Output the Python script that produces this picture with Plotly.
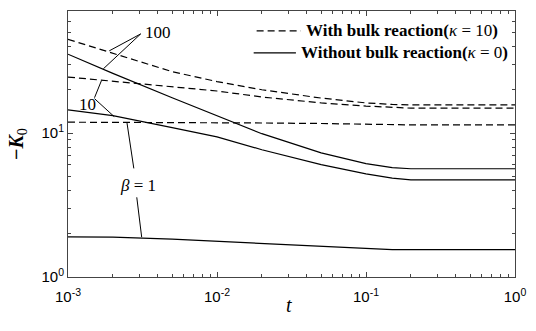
import plotly.graph_objects as go

# Time grid (log-spaced sample points)
t = [0.001, 0.002, 0.005, 0.01, 0.02, 0.05, 0.1, 0.15, 0.2, 0.5, 1.0]

# -K0 without bulk reaction (kappa = 0)
k0_beta1 = [1.90, 1.89, 1.83, 1.77, 1.72, 1.65, 1.58, 1.55, 1.55, 1.55, 1.55]
k0_beta10 = [14.5, 13.2, 10.9, 9.4, 7.66, 6.03, 5.21, 4.86, 4.73, 4.73, 4.73]
k0_beta100 = [35.3, 26.0, 17.6, 13.2, 9.9, 7.29, 6.14, 5.75, 5.65, 5.65, 5.65]

# -K0 with bulk reaction (kappa = 10)
k10_beta1 = [11.9, 11.88, 11.85, 11.8, 11.75, 11.65, 11.5, 11.42, 11.4, 11.4, 11.4]
k10_beta10 = [24.5, 22.9, 21.0, 19.6, 17.8, 16.2, 15.4, 15.05, 14.9, 14.9, 14.9]
k10_beta100 = [44.8, 35.7, 26.7, 22.8, 20.0, 17.5, 16.2, 15.8, 15.7, 15.7, 15.7]

x_tickvals = [0.001, 0.01, 0.1, 1]
x_ticktext = ["10<sup>-3</sup>", "10<sup>-2</sup>", "10<sup>-1</sup>", "10<sup>0</sup>"]
y_tickvals = [1, 10]
y_ticktext = ["10<sup>0</sup>", "10<sup>1</sup>"]

legend_with = "<b>With bulk reaction(</b><i>κ</i> = 10<b>)</b>"
legend_without = "<b>Without bulk reaction(</b><i>κ</i> = 0<b>)</b>"

W, H = 536, 331
L, R, T, B = 68, 13, 10, 54
pw, ph = W - L - R, H - T - B

def px(x):
    return (x - L) / pw

def py(y):
    return (H - B - y) / ph

fig = go.Figure()
dash = "7px,4px"
line_w = 1.2

series = [
    (k10_beta100, "dash"),
    (k10_beta10, "dash"),
    (k10_beta1, "dash"),
    (k0_beta100, "solid"),
    (k0_beta10, "solid"),
    (k0_beta1, "solid"),
]
for vals, style in series:
    fig.add_trace(go.Scatter(
        x=t, y=vals, mode="lines", showlegend=False,
        line=dict(color="black", width=line_w,
                  dash=dash if style == "dash" else "solid"),
    ))

def seg(p0, p1, dash_style="solid", width=1):
    return dict(type="line", xref="paper", yref="paper",
                x0=px(p0[0]), y0=py(p0[1]), x1=px(p1[0]), y1=py(p1[1]),
                line=dict(color="black", width=width, dash=dash_style))

# Leader lines from the beta labels to their curves (pixel positions)
leaders = [
    ((142, 33), (110, 50)),
    ((142, 33), (104, 68)),
    ((95, 97), (102, 80)),
    ((95, 98), (115, 116)),
    ((128, 122), (135, 168)),
    ((138, 197), (143, 237)),
]
shapes = [seg(a, b) for a, b in leaders]

# Legend keys
shapes.append(seg((260, 30), (305, 30), dash, line_w))
shapes.append(seg((257, 52), (300, 52), "solid", line_w))

label_font = dict(family="Liberation Serif", size=17, color="black")
legend_font = dict(family="Liberation Serif", size=17, color="black")

def text_at(txt, x, y, font, xanchor="center"):
    return dict(text=txt, x=px(x), y=py(y), xref="paper", yref="paper",
                xanchor=xanchor, yanchor="middle", showarrow=False, font=font)

annotations = [
    text_at("100", 160, 32, label_font),
    text_at("10", 88, 104, label_font),
    text_at("<i>β</i> = 1", 139, 185, label_font),
    text_at(legend_with, 308, 30, legend_font, "left"),
    text_at(legend_without, 303, 52, legend_font, "left"),
    text_at("<i>t</i>", 293, 305,
            dict(family="Liberation Serif", size=20, color="black")),
]

axis_common = dict(
    type="log", showgrid=False, zeroline=False,
    showline=True, linecolor="#444", linewidth=1, mirror="ticks",
    ticks="inside", ticklen=5, tickcolor="#444", tickwidth=1,
    minor=dict(ticks="inside", ticklen=3, tickcolor="#444", tickwidth=1,
               dtick="D1", showgrid=False),
    tickfont=dict(family="Liberation Sans", size=15, color="black"),
)

fig.update_layout(
    width=W, height=H,
    margin=dict(l=L, r=R, t=T, b=B),
    paper_bgcolor="white", plot_bgcolor="white",
    shapes=shapes, annotations=annotations,
    xaxis=dict(axis_common, range=[-3, 0], tickvals=x_tickvals,
               ticktext=x_ticktext, ticklabelstandoff=6),
    yaxis=dict(axis_common, range=[0, 1.848], tickvals=y_tickvals,
               ticktext=y_ticktext,
               title=dict(text="<b>−<i>K</i></b><sub>0</sub>", standoff=12,
                          font=dict(family="Liberation Serif", size=20,
                                    color="black"))),
    showlegend=False,
)

fig.write_html("out.html")
